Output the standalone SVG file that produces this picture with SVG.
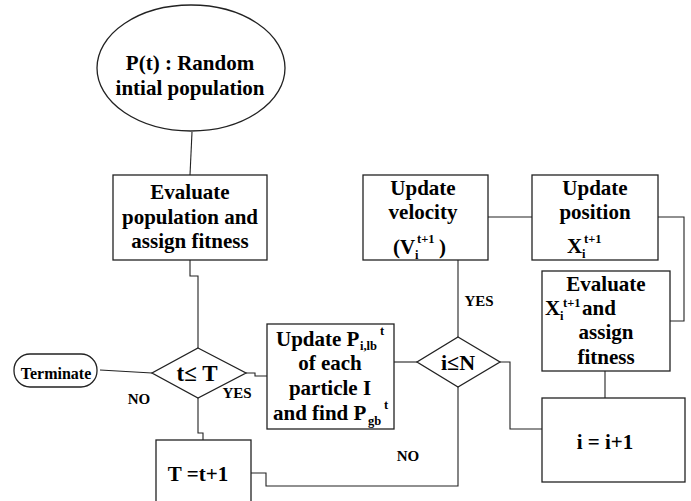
<svg xmlns="http://www.w3.org/2000/svg" width="691" height="501" viewBox="0 0 691 501">
  <style>
    .box { fill: #fff; stroke: #222; stroke-width: 1.3; }
    .wire { fill: none; stroke: #222; stroke-width: 1.1; }
    text { font-family: "Liberation Serif", "Times New Roman", serif; font-weight: bold; fill: #000; }
    .t { font-size: 21px; text-anchor: middle; }
    .m { font-size: 21px; }
    .s { font-size: 12.5px; }
    .lbl { font-size: 15px; text-anchor: middle; }
  </style>
  <rect width="691" height="501" fill="#fff"/>

  <!-- connectors -->
  <g id="connectors">
    <path class="wire" d="M192,132 L190,175"/>
    <path class="wire" d="M190,260 L190,276 L198,276 L198,348"/>
    <path class="wire" d="M100,370 L152,373"/>
    <path class="wire" d="M246,373 L255,373 L255,376 L267,376"/>
    <path class="wire" d="M198,398 L198,433 L203,433 L203,440"/>
    <path class="wire" d="M251,473 L266,473 L266,486 L458,486 L458,387"/>
    <path class="wire" d="M394,362 L417,362"/>
    <path class="wire" d="M458,260 L458,337"/>
    <path class="wire" d="M488,217 L532,217"/>
    <path class="wire" d="M658,217 L684,217 L684,321 L670,321"/>
    <path class="wire" d="M605,371 L605,398"/>
    <path class="wire" d="M500,362 L510,362 L510,429 L542,429"/>
  </g>

  <!-- start: random initial population -->
  <g id="start">
    <ellipse class="box" cx="191" cy="68" rx="94" ry="63"/>
    <text class="t" x="190" y="70">P(t) : Random</text>
    <text class="t" x="190" y="95">intial population</text>
  </g>

  <!-- evaluate population -->
  <g id="evaluate">
    <rect class="box" x="113" y="175" width="154" height="85"/>
    <text class="t" x="190" y="199">Evaluate</text>
    <text class="t" x="190" y="224">population and</text>
    <text class="t" x="190" y="248">assign fitness</text>
  </g>

  <!-- decision t <= T -->
  <g id="check-t">
    <polygon class="box" points="198,348 246,373 198,398 152,373"/>
    <text class="t" x="197" y="381" style="font-size:23px">t≤ T</text>
  </g>

  <!-- terminate -->
  <g id="terminate">
    <rect class="box" x="14" y="354" width="83" height="33" rx="16" ry="16"/>
    <text x="56" y="379" style="font-size:16px;text-anchor:middle">Terminate</text>
  </g>

  <!-- increment T -->
  <g id="increment-t">
    <rect class="box" x="156" y="440" width="95" height="80"/>
    <text class="t" x="198" y="481">T =t+1</text>
  </g>

  <!-- update personal / global best -->
  <g id="update-best">
    <rect class="box" x="267" y="324" width="127" height="105"/>
    <text class="m" x="276" y="346">Update P</text>
    <text class="s" x="360" y="350">i,lb</text>
    <text class="s" x="380" y="335">t</text>
    <text class="t" x="330" y="370">of each</text>
    <text class="t" x="330" y="395">particle I</text>
    <text class="m" x="273" y="420">and find P</text>
    <text class="s" x="368" y="425">gb</text>
    <text class="s" x="384" y="409">t</text>
  </g>

  <!-- decision i <= N -->
  <g id="check-i">
    <polygon class="box" points="458,337 500,362 458,387 417,362"/>
    <text class="t" x="458" y="370" style="font-size:22px">i≤N</text>
  </g>

  <!-- update velocity -->
  <g id="update-velocity">
    <rect class="box" x="363" y="175" width="125" height="85"/>
    <text class="t" x="423" y="195">Update</text>
    <text class="t" x="423" y="219">velocity</text>
    <text class="m" x="393" y="254">(V</text>
    <text class="s" x="415" y="259">i</text>
    <text class="s" x="417" y="243">t+1</text>
    <text class="m" x="439" y="254">)</text>
  </g>

  <!-- update position -->
  <g id="update-position">
    <rect class="box" x="532" y="175" width="126" height="85"/>
    <text class="t" x="595" y="195">Update</text>
    <text class="t" x="595" y="219">position</text>
    <text class="m" x="567" y="253">X</text>
    <text class="s" x="582" y="258">i</text>
    <text class="s" x="584" y="243">t+1</text>
  </g>

  <!-- evaluate new position -->
  <g id="evaluate-position">
    <rect class="box" x="542" y="271" width="128" height="100"/>
    <text class="t" x="606" y="291">Evaluate</text>
    <text class="m" x="545" y="315">X</text>
    <text class="s" x="560" y="320">i</text>
    <text class="s" x="563" y="307">t+1</text>
    <text class="m" x="582" y="315">and</text>
    <text class="t" x="606" y="339">assign</text>
    <text class="t" x="606" y="364">fitness</text>
  </g>

  <!-- increment i -->
  <g id="increment-i">
    <rect class="box" x="542" y="398" width="143" height="84"/>
    <text class="t" x="605" y="449">i = i+1</text>
  </g>

  <!-- branch labels -->
  <g id="labels">
    <text class="lbl" x="139" y="404">NO</text>
    <text class="lbl" x="237" y="398">YES</text>
    <text class="lbl" x="408" y="461">NO</text>
    <text class="lbl" x="479" y="306">YES</text>
  </g>
</svg>
